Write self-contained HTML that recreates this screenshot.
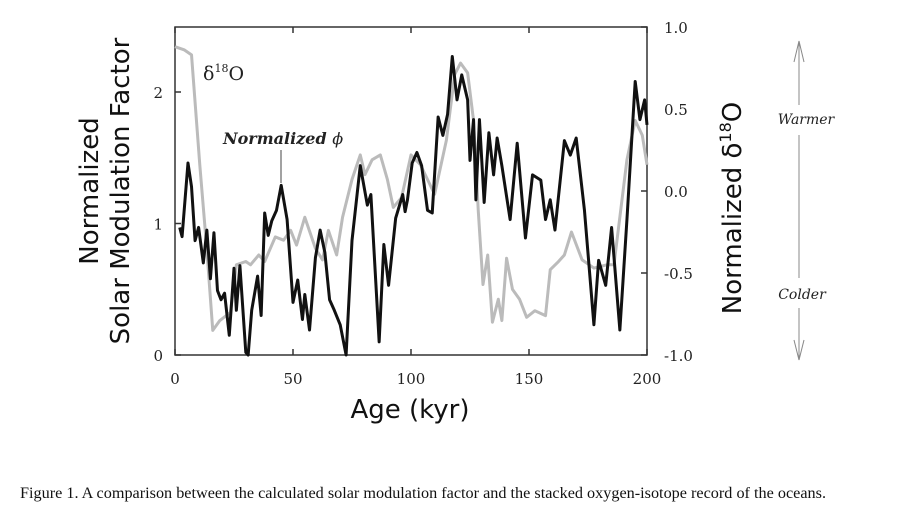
<!DOCTYPE html>
<html><head><meta charset="utf-8"><style>
html,body{margin:0;padding:0;background:#fff;}
svg{display:block;}
.tk{font-family:"DejaVu Serif","Liberation Serif",serif;font-size:15px;fill:#222;}
.ttl{font-family:"DejaVu Sans","Liberation Sans",sans-serif;font-size:26px;fill:#111;}
</style></head><body>
<svg id="chart" width="907" height="513" viewBox="0 0 907 513">
<rect x="175" y="27" width="472" height="328" fill="none" stroke="#333" stroke-width="1.5"/>
<g id="ticks"></g>
<polyline id="grey" fill="none" stroke="#bbb" stroke-width="3" stroke-linejoin="round"/>
<polyline id="black" fill="none" stroke="#111" stroke-width="3" stroke-linejoin="round"/>
<text x="203" y="80" font-family="DejaVu Serif,Liberation Serif,serif" font-size="19" fill="#222">δ<tspan font-size="11" dy="-8">18</tspan><tspan dy="8">O</tspan></text>
<text x="223" y="144" font-family="DejaVu Serif,Liberation Serif,serif" font-size="16" font-weight="bold" font-style="italic" fill="#222">Normalized <tspan font-weight="normal">ϕ</tspan></text>
<line x1="281" y1="150" x2="281" y2="183" stroke="#444" stroke-width="1"/>
<text class="ttl" transform="translate(98,191) rotate(-90)" text-anchor="middle" font-size="25">Normalized</text>
<text class="ttl" transform="translate(129,191) rotate(-90)" text-anchor="middle" font-size="25.5">Solar Modulation Factor</text>
<text class="ttl" transform="translate(741,208) rotate(-90)" text-anchor="middle" font-size="25">Normalized δ<tspan font-size="16" dy="-10">18</tspan><tspan dy="10">O</tspan></text>
<text x="410" y="418" text-anchor="middle" class="ttl" font-size="26">Age (kyr)</text>
<g stroke="#888" stroke-width="1" fill="none">
<line x1="799" y1="41" x2="799" y2="105"/><line x1="799" y1="135" x2="799" y2="278"/><line x1="799" y1="308" x2="799" y2="360"/>
<polyline points="794,62 799,41 804,62"/><polyline points="794,340 799,360 804,340"/>
</g>
<text x="806" y="124" text-anchor="middle" font-family="DejaVu Serif,Liberation Serif,serif" font-style="italic" font-size="14" fill="#222">Warmer</text>
<text x="802" y="299" text-anchor="middle" font-family="DejaVu Serif,Liberation Serif,serif" font-style="italic" font-size="14" fill="#222">Colder</text>
<text x="20" y="498" font-family="Liberation Serif,serif" font-size="16" textLength="806" lengthAdjust="spacingAndGlyphs" fill="#111">Figure 1. A comparison between the calculated solar modulation factor and the stacked oxygen-isotope record of the oceans.</text>
</svg>
<script>
const phiAge=[2,3,5.5,7,8.5,10,12,13.5,15,16.5,18,19.5,21,23,25,26,27.5,30,31,32.5,35,36.5,38,39.5,41,43,45,47.5,50,52,54,55,57,59.5,61.5,63.5,65.5,67.5,70,72.5,75,78.5,81.5,83,86.5,88.5,90.5,93.5,96.5,97.5,98.5,100.5,102.5,104.5,107,109,111.5,113.5,115.5,117.5,119.5,121.5,124,125,126.5,127.5,129,131,133,135,136.5,138.5,142,145,148.5,151.5,155,157,159,161,165,167.5,170,173.5,177.5,179.5,182.5,185,188.5,191.5,195,197,199,200];
const phiVal=[0.97,0.9,1.46,1.28,0.87,0.97,0.7,0.95,0.58,0.93,0.49,0.42,0.47,0.15,0.66,0.34,0.68,0.02,0,0.34,0.6,0.3,1.08,0.91,1.02,1.1,1.29,1.03,0.4,0.57,0.27,0.46,0.19,0.74,0.95,0.78,0.42,0.34,0.23,0,0.87,1.44,1.14,1.22,0.1,0.84,0.53,1.04,1.22,1.09,1.18,1.46,1.54,1.44,1.1,1.08,1.81,1.67,1.83,2.27,1.94,2.13,1.94,1.48,1.79,1.18,1.79,1.16,1.69,1.37,1.65,1.44,1.03,1.61,0.89,1.37,1.33,1.03,1.18,0.95,1.63,1.52,1.65,1.1,0.23,0.72,0.53,0.97,0.19,1.03,2.08,1.79,1.94,1.75];
const d18Age=[0,4,7,10.5,13.5,16,19,23.5,26,30,32,35.5,38,42.5,46,49,51.5,55,59.5,62.5,65,68.5,71,75,78.5,80.5,83.5,87,90,92.5,96,100,104,110,115,118.5,121,124,126.5,128.5,130.5,132.5,134.5,137,138.5,140.5,143,146,149,152.5,157,159,162.5,165,168,172.5,177.5,183,186,191.5,195,198,200];
const d18Val=[0.88,0.86,0.83,0.16,-0.36,-0.85,-0.79,-0.74,-0.45,-0.43,-0.45,-0.39,-0.43,-0.28,-0.3,-0.24,-0.33,-0.16,-0.35,-0.42,-0.24,-0.39,-0.16,0.07,0.22,0.1,0.19,0.22,0.07,-0.1,-0.04,0.22,0.16,-0.02,0.31,0.71,0.78,0.72,0.43,-0.12,-0.57,-0.39,-0.8,-0.66,-0.79,-0.41,-0.6,-0.66,-0.77,-0.73,-0.76,-0.48,-0.43,-0.39,-0.25,-0.42,-0.47,-0.45,-0.45,0.19,0.43,0.34,0.16];
const xTicks=[0,50,100,150,200];
const yLeftTicks=[0,1,2];
const yRightTicks=["1.0","0.5","0.0","-0.5","-1.0"];
const X=a=>175+a*472/200;
const YL=v=>355-v*131.5;
const YR=v=>355-(v+1)*164;
const NS='http://www.w3.org/2000/svg';
document.getElementById('black').setAttribute('points',phiAge.map((a,i)=>X(a)+','+YL(phiVal[i])).join(' '));
document.getElementById('grey').setAttribute('points',d18Age.map((a,i)=>X(a)+','+YR(d18Val[i])).join(' '));
const g=document.getElementById('ticks');
function ln(x1,y1,x2,y2){const l=document.createElementNS(NS,'line');l.setAttribute('x1',x1);l.setAttribute('y1',y1);l.setAttribute('x2',x2);l.setAttribute('y2',y2);l.setAttribute('stroke','#333');l.setAttribute('stroke-width','1.5');


g.appendChild(l);}
function tx(x,y,s,anchor,name){const t=document.createElementNS(NS,'text');t.setAttribute('x',x);t.setAttribute('y',y);t.setAttribute('class','tk');t.setAttribute('text-anchor',anchor);t.textContent=s;


g.appendChild(t);}
xTicks.forEach(a=>{ln(X(a),27,X(a),33);ln(X(a),355,X(a),349);tx(X(a),384,String(a),'middle','x-tick-label');});
yLeftTicks.forEach(v=>{ln(175,YL(v),181,YL(v));tx(163,YL(v)+6,String(v),'end','left-y-tick-label');});
yRightTicks.forEach(s=>{const v=parseFloat(s);ln(641,YR(v),647,YR(v));tx(664,YR(v)+6,s,'start','right-y-tick-label');});
</script>
</body></html>
